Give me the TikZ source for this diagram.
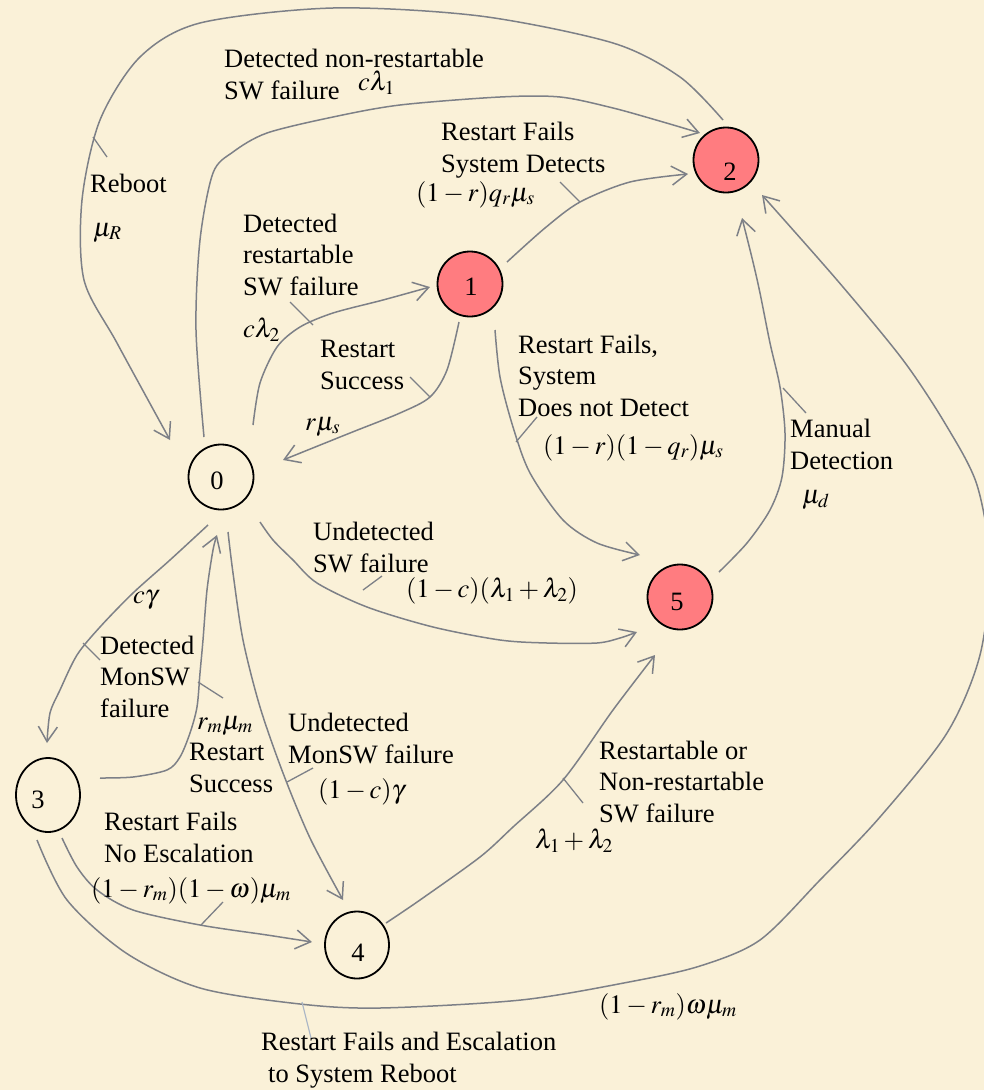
\documentclass[tikz,border=0pt]{standalone}
\usepackage{mathptmx}
\usepackage{fontspec}
\setmainfont{Liberation Serif}
\usetikzlibrary{arrows.meta,shapes.geometric,calc}
\definecolor{bgc}{RGB}{250,241,216}
\definecolor{edgec}{RGB}{125,128,135}
\definecolor{leaderc}{RGB}{170,182,198}
\definecolor{statered}{RGB}{255,124,128}
\begin{document}
\begin{tikzpicture}[x=1pt,y=-1pt,
  state/.style={circle,draw=black,line width=1.8pt,minimum size=65pt,inner sep=0pt},
  redstate/.style={state,fill=statered},
  ellstate/.style={ellipse,draw=black,line width=1.8pt,inner sep=0pt},
  every label/.style={font=\fontsize{26.5}{31.5}\selectfont,inner sep=0pt},
  conn/.style={draw=edgec,line width=1.5pt,-{Straight Barb[length=15pt,width=19pt]}},
  leader/.style={draw=edgec,line width=1.3pt},
  lbl/.style={anchor=base west,inner sep=0pt,align=left,font=\fontsize{26.5}{31.5}\selectfont}]
\fill[bgc] (0,0) rectangle (984,1090);
\useasboundingbox (0,0) rectangle (984,1090);

% states
\node[state,label={[xshift=-4pt,yshift=-4pt]center:0}] (n0) at (221,477) {};
\node[redstate,label={[xshift=1pt,yshift=-3pt]center:1}] (n1) at (470,284) {};
\node[redstate,label={[xshift=4pt,yshift=-12pt]center:2}] (n2) at (726,160) {};
\node[ellstate,minimum width=64pt,minimum height=74pt,label={[xshift=-10pt,yshift=-5pt]center:3}] (n3) at (48,795) {};
\node[ellstate,minimum width=64pt,minimum height=67pt,label={[xshift=1pt,yshift=-8pt]center:4}] (n4) at (357,945) {};
\node[redstate,label={[xshift=-3pt,yshift=-5pt]center:5}] (n5) at (680,597) {};

% connector end points, placed relative to their states
\coordinate (e1a) at ($(n0)+(-17,-40)$);  \coordinate (e1b) at ($(n2)+(-26,-27)$);
\coordinate (e2a) at ($(n2)+(-3,-40)$);   \coordinate (e2b) at ($(n0)+(-51,-37)$);
\coordinate (e3a) at ($(n1)+(37,-22)$);   \coordinate (e3b) at ($(n2)+(-38,14)$);
\coordinate (e4a) at ($(n0)+(32,-52)$);   \coordinate (e4b) at ($(n1)+(-40,3)$);
\coordinate (e5a) at ($(n1)+(-11,38)$);   \coordinate (e5b) at ($(n0)+(62,-17)$);
\coordinate (e6a) at ($(n1)+(25,46)$);    \coordinate (e6b) at ($(n5)+(-40,-42)$);
\coordinate (e7a) at ($(n5)+(39,-25)$);   \coordinate (e7b) at ($(n2)+(16,58)$);
\coordinate (e8a) at ($(n3)+(-11,45)$);   \coordinate (e8b) at ($(n2)+(36,35)$);
\coordinate (e9a) at ($(n0)+(39,45)$);    \coordinate (e9b) at ($(n5)+(-43,35)$);
\coordinate (e10a) at ($(n0)+(-13,48)$);  \coordinate (e10b) at ($(n3)+(-1,-52)$);
\coordinate (e11a) at ($(n3)+(52,-17)$);  \coordinate (e11b) at ($(n0)+(-4,58)$);
\coordinate (e12a) at ($(n0)+(7,55)$);    \coordinate (e12b) at ($(n4)+(-14,-45)$);
\coordinate (e13a) at ($(n3)+(14,43)$);   \coordinate (e13b) at ($(n4)+(-45,-3)$);
\coordinate (e14a) at ($(n4)+(29,-22)$);  \coordinate (e14b) at ($(n5)+(-25,58)$);

% connectors
\draw[conn] plot[smooth] coordinates {(e1a) (196,330) (200,240) (213,173) (233,152) (267,133) (333,117) (400,105) (500,97) (560,97) (613,108) (663,122) (e1b)};
\draw[conn] plot[smooth] coordinates {(e2a) (680,77) (613,43) (480,16) (333,8) (200,23) (140,57) (100,120) (82,200) (84,280) (117,343) (e2b)};
\draw[conn] plot[smooth] coordinates {(e3a) (545,228) (580,202) (630,182) (e3b)};
\draw[conn] plot[smooth] coordinates {(e4a) (260,383) (277,347) (300,327) (333,313) (383,300) (e4b)};
\draw[conn] plot[smooth] coordinates {(e5a) (447,370) (430,397) (400,413) (350,433) (e5b)};
\draw[conn] plot[smooth] coordinates {(e6a) (500,377) (513,427) (530,473) (563,520) (597,543) (e6b)};
\draw[conn] plot[smooth] coordinates {(e7a) (747,543) (770,510) (782,477) (785,433) (780,387) (770,343) (760,293) (753,262) (e7b)};
\draw[conn] plot[smooth] coordinates {(e8a) (67,900) (126,953) (200,988) (300,1004) (380,1008) (521,1000) (629,982) (700,966) (760,940) (820,880) (880,817) (947,733) (980,655) (990,565) (977,485) (946,425) (903,360) (837,280) (e8b)};
\draw[conn] plot[smooth] coordinates {(e9a) (273,540) (293,560) (317,583) (367,607) (433,627) (500,640) (547,643) (597,643) (620,638) (e9b)};
\draw[conn] plot[smooth] coordinates {(e10a) (170,560) (133,593) (100,627) (77,655) (60,690) (50,713) (e10b)};
\draw[conn] plot[smooth] coordinates {(e11a) (133,777) (167,770) (180,757) (190,733) (197,707) (200,673) (203,640) (207,590) (213,550) (e11b)};
\draw[conn] plot[smooth] coordinates {(e12a) (233,573) (243,640) (260,707) (283,773) (310,838) (e12b)};
\draw[conn] plot[smooth] coordinates {(e13a) (77,867) (97,890) (133,910) (200,925) (267,935) (e13b)};
\draw[conn] plot[smooth] coordinates {(e14a) (420,900) (480,857) (513,827) (563,780) (613,710) (e14b)};

% leader lines
\draw[leader] (93,137) -- (107,157);
\draw[leader] (560,182) -- (580,202);
\draw[leader] (290,302) -- (313,325);
\draw[leader] (410,377) -- (430,397);
\draw[leader] (537,417) -- (516,442);
\draw[leader] (783,388) -- (806,413);
\draw[leader] (363,590) -- (382,576);
\draw[leader] (83,643) -- (100,660);
\draw[leader] (198,682) -- (223,698);
\draw[leader] (287,782) -- (313,768);
\draw[leader] (223,902) -- (201,925);
\draw[leader] (563,778) -- (583,803);
\draw[leaderc,line width=1.1pt] (302,1002) -- (311,1038);

% labels (multi-line labels are placed by the baseline of their last line)
\node[lbl] (t1) at (224,99) {Detected non-restartable\\SW failure};
\node[lbl] (m1) at (358,90) {$c\lambda_1$};
\node[lbl] (t2) at (90,192) {Reboot};
\node[lbl] (m2) at (93,236) {$\mu_R$};
\node[lbl] (t3) at (441,172) {Restart Fails\\System Detects};
\node[lbl] (m3) at (416,201) {$(1-r)q_r\mu_s$};
\node[lbl] (t4) at (243,295) {Detected\\restartable\\SW failure};
\node[lbl] (m4) at (243,337) {$c\lambda_2$};
\node[lbl] (t5) at (320,389) {Restart\\Success};
\node[lbl] (m5) at (305,430) {$r\mu_s$};
\node[lbl] (t6) at (518,416) {Restart Fails,\\System\\Does not Detect};
\node[lbl] (m6) at (543,454) {$(1-r)(1-q_r)\mu_s$};
\node[lbl] (t7) at (790,469) {Manual\\Detection};
\node[lbl] (m7) at (802,503) {$\mu_d$};
\node[lbl] (t8) at (313,572) {Undetected\\SW failure};
\node[lbl] (m8) at (406,597) {$(1-c)(\lambda_1+\lambda_2)$};
\node[lbl] (m9) at (133,603) {$c\gamma$};
\node[lbl] (t10) at (100,717) {Detected\\MonSW\\failure};
\node[lbl] (m10) at (197,729) {$r_m\mu_m$};
\node[lbl] (t11) at (189,792) {Restart\\Success};
\node[lbl] (t12) at (288,763) {Undetected\\MonSW failure};
\node[lbl] (m12) at (318,798) {$(1-c)\gamma$};
\node[lbl] (t13) at (104,862) {Restart Fails\\No Escalation};
\node[lbl] (m13) at (91,897) {$(1-r_m)(1-\omega)\mu_m$};
\node[lbl] (t14) at (599,822) {Restartable or\\Non-restartable\\SW failure};
\node[lbl] (m14) at (535,848) {$\lambda_1+\lambda_2$};
\node[lbl] (m15) at (599,1013) {$(1-r_m)\omega\mu_m$};
\node[lbl] (t16) at (261,1082) {Restart Fails and Escalation\\\hspace*{7pt}to System Reboot};
\end{tikzpicture}
\end{document}
